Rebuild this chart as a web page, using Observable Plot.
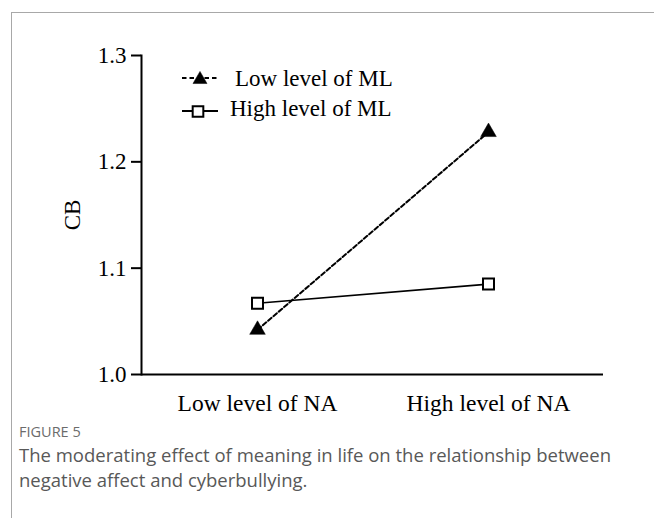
<!DOCTYPE html>
<html>
<head>
<meta charset="utf-8">
<script src="https://cdn.jsdelivr.net/npm/d3@7"></script>
<script src="https://cdn.jsdelivr.net/npm/@observablehq/plot@0.6"></script>
<style>
  html, body { margin: 0; padding: 0; background: #fff; }
  #wrap { position: relative; width: 654px; height: 518px; overflow: hidden; background: #fff; }
  .border-top { position: absolute; left: 11px; top: 12px; width: 643px; height: 1px; background: #a8a8a8; }
  .border-left { position: absolute; left: 11px; top: 12px; width: 1px; height: 506px; background: #a8a8a8; }
  #chart { position: absolute; left: 0; top: 0; }
  #legend { position: absolute; left: 0; top: 0; }
  .fig { position: absolute; left: 19px; font-family: "Open Sans", sans-serif; }
  #figlabel { top: 422px; font-size: 14.5px; color: #6b6b6b; }
  #figcap { top: 442px; width: 634px; font-size: 18.5px; line-height: 25px; color: #585858; }
</style>
</head>
<body>
<div id="wrap">
  <div class="border-top"></div>
  <div class="border-left"></div>
  <div id="chart"></div>
  <div id="legend"></div>
  <div class="fig" id="figlabel">FIGURE 5</div>
  <div class="fig" id="figcap">The moderating effect of meaning in life on the relationship between negative affect and cyberbullying.</div>
</div>
<script>
const categories = ["Low level of NA", "High level of NA"];
const seriesNames = ["Low level of ML", "High level of ML"];
const lowML = [1.042, 1.228];
const highML = [1.067, 1.085];
const yTicks = [1.0, 1.1, 1.2, 1.3];
const yLabel = "CB";

const lowData = categories.map((c, i) => ({x: c, y: lowML[i], s: seriesNames[0]}));
const highData = categories.map((c, i) => ({x: c, y: highML[i], s: seriesNames[1]}));

const serif = "'Liberation Serif', 'Times New Roman', serif";

const chart = Plot.plot({
  width: 654,
  height: 420,
  marginLeft: 141,
  marginRight: 51,
  marginTop: 55,
  marginBottom: 46,
  style: {fontFamily: serif, fontSize: "23px", color: "black", background: "transparent", overflow: "visible"},
  x: {type: "point", domain: categories, padding: 0.5},
  y: {domain: [1.0, 1.3]},
  marks: [
    Plot.axisY({ticks: yTicks, tickFormat: d3.format(".1f"), tickSize: 10, tickPadding: 5, strokeWidth: 2,
      label: yLabel, labelAnchor: "center", labelArrow: "none", labelOffset: 78, fontSize: 23}),
    Plot.axisX({tickSize: 0, tickPadding: 20, label: null, fontSize: 23.5}),
    Plot.frame({anchor: "left", stroke: "black", strokeWidth: 2}),
    Plot.ruleY([yTicks[0]], {stroke: "black", strokeWidth: 2}),
    Plot.line(highData, {x: "x", y: "y", stroke: "black", strokeWidth: 1.7}),
    Plot.line(lowData, {x: "x", y: "y", stroke: "black", strokeWidth: 2, strokeDasharray: "4.5,2.5"}),
    Plot.dot(highData, {x: "x", y: "y", symbol: "square", r: 6.2, fill: "white", stroke: "black", strokeWidth: 2}),
    Plot.dot(lowData, {x: "x", y: "y", symbol: "triangle", r: 5.8, fill: "black", stroke: "black", strokeWidth: 0.5})
  ]
});
document.getElementById("chart").appendChild(chart);

// Legend (overlay)
const legend = d3.select("#legend").append("svg").attr("width", 654).attr("height", 140)
  .style("font-family", serif).style("font-size", "23px");
const rows = [
  {name: seriesNames[0], dash: "4.5,3", sym: d3.symbolTriangle, r: 5.2, fill: "black", ly: 78, sx: 200, sy: 79.5, tx: 235, ty: 86},
  {name: seriesNames[1], dash: null, sym: d3.symbolSquare, r: 6.0, fill: "white", ly: 111, sx: 198, sy: 111.5, tx: 230, ty: 116}
];
rows.forEach(r => {
  const g = legend.append("g");
  g.append("line").attr("x1", 182).attr("x2", 218).attr("y1", r.ly).attr("y2", r.ly)
    .attr("stroke", "black").attr("stroke-width", 2).attr("stroke-dasharray", r.dash);
  g.append("path").attr("d", d3.symbol(r.sym, r.r * r.r * Math.PI)())
    .attr("transform", `translate(${r.sx},${r.sy})`)
    .attr("fill", r.fill).attr("stroke", "black").attr("stroke-width", r.fill === "white" ? 2 : 0.5);
  g.append("text").attr("x", r.tx).attr("y", r.ty).text(r.name);
});
</script>
</body>
</html>
